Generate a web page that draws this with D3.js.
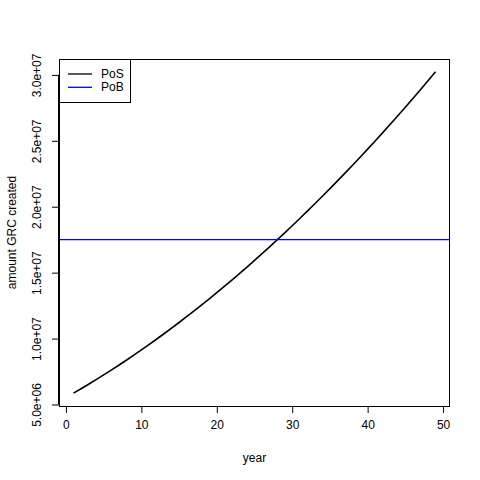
<!DOCTYPE html>
<html>
<head>
<meta charset="utf-8">
<script src="https://cdn.jsdelivr.net/npm/d3@7"></script>
<style>
  html, body { margin: 0; padding: 0; background: #fff; }
  text { font-family: "Liberation Sans", Arial, sans-serif; font-size: 12px; fill: #000; }
</style>
</head>
<body>
<div id="chart"></div>
<script>
// Data
const years = d3.range(1, 50);
const posValues = [
  5.860, 6.194, 6.537, 6.886, 7.243, 7.608, 7.979, 8.358, 8.745, 9.139,
  9.540, 9.948, 10.364, 10.787, 11.218, 11.656, 12.101, 12.553, 13.013, 13.480,
  13.955, 14.437, 14.926, 15.423, 15.927, 16.438, 16.957, 17.483, 18.017, 18.557,
  19.106, 19.661, 20.224, 20.794, 21.372, 21.957, 22.549, 23.148, 23.755, 24.370,
  24.991, 25.620, 26.257, 26.900, 27.551, 28.210, 28.876, 29.549, 30.230
].map(v => v * 1e6);
const pobValue = 1.75e7;
const xTicks = [0, 10, 20, 30, 40, 50];
const yTicks = [5e6, 1e7, 1.5e7, 2e7, 2.5e7, 3e7];
const seriesNames = ["PoS", "PoB"];
const seriesColors = ["#000000", "#0000ff"];

// Sizing (R base graphics layout at 480x480)
const width = 480, height = 480;
const margin = { top: 59, right: 30, bottom: 74, left: 59 };
const innerWidth = width - margin.left - margin.right;
const innerHeight = height - margin.top - margin.bottom;

// R-style 4% padding of the data range
function padExtent([lo, hi]) {
  const d = (hi - lo) * 0.04;
  return [lo - d, hi + d];
}

const x = d3.scaleLinear()
  .domain(padExtent(d3.extent(years)))
  .range([0, innerWidth]);

const y = d3.scaleLinear()
  .domain(padExtent(d3.extent(posValues)))
  .range([innerHeight, 0]);

const svg = d3.select("#chart")
  .append("svg")
  .attr("width", width)
  .attr("height", height);

const g = svg.append("g").attr("transform", `translate(${margin.left},${margin.top})`);

// Clip for lines
svg.append("defs").append("clipPath").attr("id", "plot-clip")
  .append("rect").attr("width", innerWidth).attr("height", innerHeight);

// Format like R: 5.0e+06
function sci(v) {
  const [m, e] = v.toExponential(1).split("e");
  return m + "e" + e[0] + e.slice(1).padStart(2, "0");
}

// X axis
const xAxis = d3.axisBottom(x).tickValues(xTicks).tickSize(7).tickPadding(7).tickSizeOuter(0);
const xAxisG = g.append("g")
  .attr("transform", `translate(0,${innerHeight})`)
  .call(xAxis);
xAxisG.select(".domain")
  .attr("d", `M${x(xTicks[0])},0.5H${x(xTicks[xTicks.length - 1])}`);

// Y axis
const yAxis = d3.axisLeft(y).tickValues(yTicks).tickFormat(sci).tickSize(7).tickSizeOuter(0);
const yAxisG = g.append("g").call(yAxis);
yAxisG.select(".domain")
  .attr("d", `M-0.5,${y(yTicks[0])}V${y(yTicks[yTicks.length - 1])}`);
yAxisG.selectAll(".tick text")
  .attr("x", null)
  .attr("dy", null)
  .attr("text-anchor", "middle")
  .attr("transform", "translate(-18,0) rotate(-90)");

g.selectAll(".tick text").style("font-size", "12px").attr("fill", "#000");
g.selectAll(".domain, .tick line").attr("stroke", "#000");

// Box
g.append("rect")
  .attr("x", 0.5).attr("y", 0.5)
  .attr("width", innerWidth - 1).attr("height", innerHeight)
  .attr("fill", "none")
  .attr("stroke", "#000");

// Labels
g.append("text")
  .attr("x", innerWidth / 2)
  .attr("y", innerHeight + 56)
  .attr("text-anchor", "middle")
  .text("year");

g.append("text")
  .attr("text-anchor", "middle")
  .attr("transform", `translate(-43,${innerHeight / 2}) rotate(-90)`)
  .text("amount GRC created");

// Lines
const plot = g.append("g").attr("clip-path", "url(#plot-clip)");

const line = d3.line()
  .x((d, i) => x(years[i]))
  .y(d => y(d));

plot.append("path")
  .datum(posValues)
  .attr("fill", "none")
  .attr("stroke", seriesColors[0])
  .attr("stroke-width", 1.6)
  .attr("d", line);

plot.append("line")
  .attr("x1", 0).attr("x2", innerWidth)
  .attr("y1", y(pobValue)).attr("y2", y(pobValue))
  .attr("stroke", seriesColors[1])
  .attr("stroke-width", 1.3);

// Legend
const legend = g.append("g").attr("class", "legend");
legend.append("rect")
  .attr("x", 0.5).attr("y", 0.5)
  .attr("width", 71).attr("height", 43)
  .attr("fill", "#fff")
  .attr("stroke", "#000");

seriesNames.forEach((name, i) => {
  const ly = 15 + i * 13.3;
  legend.append("line")
    .attr("x1", 9).attr("x2", 33)
    .attr("y1", ly).attr("y2", ly)
    .attr("stroke", seriesColors[i])
    .attr("stroke-width", 1.3);
  legend.append("text")
    .attr("x", 42)
    .attr("y", ly + 4)
    .text(name);
});
</script>
</body>
</html>
